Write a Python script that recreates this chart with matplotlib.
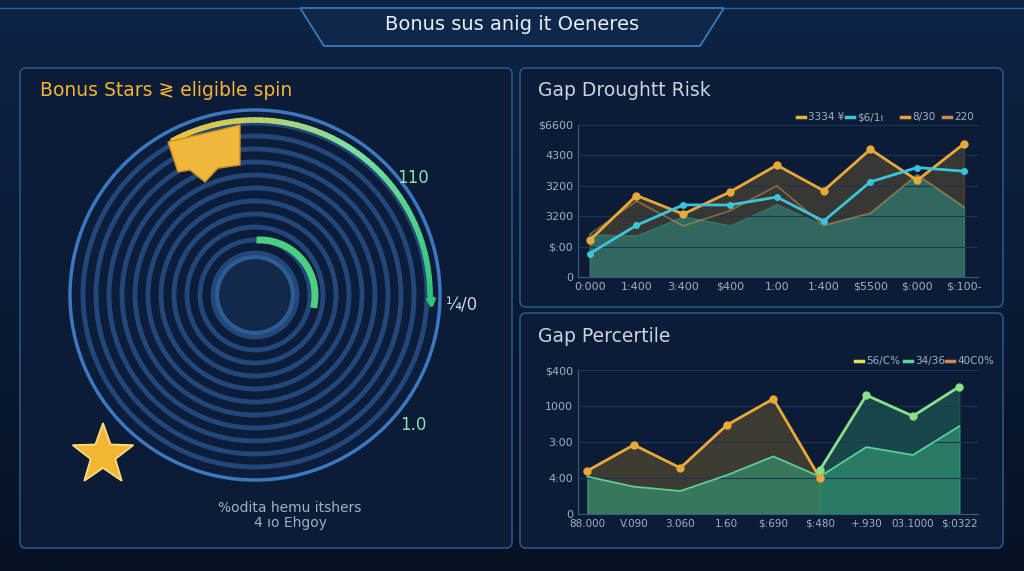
import numpy as np
import matplotlib.pyplot as plt
from matplotlib.colors import LinearSegmentedColormap
from matplotlib.patches import FancyBboxPatch, Circle, Polygon

W, H = 1024, 571

# top chart data
top_x_labels = ["0:000", "1:400", "3:400", "$400", "1:00", "1:400", "$5500", "$:000", "$:100-"]
top_orange = [1.21, 2.68, 2.07, 2.80, 3.68, 2.84, 4.20, 3.18, 4.38]
top_cyan = [0.77, 1.70, 2.37, 2.37, 2.63, 1.84, 3.13, 3.60, 3.48]
top_orange_faint = [1.40, 2.50, 1.68, 2.18, 3.00, 1.70, 2.10, 3.37, 2.30]
top_green_area = [1.40, 1.37, 2.00, 1.70, 2.40, 1.70, 2.10, 3.35, 2.30]
top_y_labels = ["0", "$:00", "3200", "3200", "4300", "$6600"]
top_legend = ["3334 ¥", "$6/1ı", "8/30", "220"]

# bottom chart data
bot_x_labels = ["88.000", "V.090", "3.060", "1.60", "$:690", "$:480", "+.930", "03.1000", "$:0322"]
bot_orange = [1.20, 1.92, 1.28, 2.47, 3.20, 1.00]
bot_green_line = [1.22, 3.30, 2.72, 3.54]
bot_green_area = [1.04, 0.76, 0.64, 1.08, 1.60, 1.04, 1.86, 1.64, 2.44]
bot_y_labels = ["0", "4:00", "3:00", "1000", "$400"]
bot_legend = ["56/C%", "34/36", "40C0%"]

BG = "#0a1628"
TXT = "#9fb0c6"

fig = plt.figure(figsize=(W / 100, H / 100), dpi=100, facecolor=BG)
deco = fig.add_axes([0, 0, 1, 1])
deco.set_xlim(0, W)
deco.set_ylim(H, 0)
deco.axis("off")

grad = np.linspace(0, 1, 256).reshape(-1, 1)
deco.imshow(grad, extent=[0, W, H, 0], aspect="auto", zorder=0,
            cmap=LinearSegmentedColormap.from_list("bg", ["#0e2445", "#071225"]))

# title banner
deco.add_patch(Polygon([(300, 8), (724, 8), (700, 46), (324, 46)], closed=True,
                       facecolor="#0f2748", edgecolor="#3b7fc4", lw=1.2, zorder=1))
deco.plot([0, 300], [8, 8], color="#2f5f95", lw=1, zorder=1)
deco.plot([724, W], [8, 8], color="#2f5f95", lw=1, zorder=1)
deco.text(512, 24, "Bonus sus anig it Oeneres", color="#e8eef8", fontsize=14,
          ha="center", va="center", zorder=2)

# panels
for (x0, y0, x1, y1) in [(20, 68, 512, 548), (520, 68, 1003, 307), (520, 313, 1003, 548)]:
    deco.add_patch(FancyBboxPatch((x0, y0), x1 - x0, y1 - y0, boxstyle="round,pad=0,rounding_size=6",
                                  facecolor="#0c1c36", edgecolor="#2a5485", lw=1.2, zorder=1))

deco.text(40, 90, "Bonus Stars ≷ eligible spin", color="#f0b53a", fontsize=13.5, va="center", zorder=3)
deco.text(538, 90, "Gap Droughtt Risk", color="#c9d3e2", fontsize=13.5, va="center", zorder=3)
deco.text(538, 337, "Gap Percertile", color="#c9d3e2", fontsize=13.5, va="center", zorder=3)

# gauge rings
cx, cy = 255, 295
deco.add_patch(Circle((cx, cy), 185, facecolor="#0b1d3a", edgecolor="#3c78c0", lw=2.5, zorder=2))
for r in np.arange(172, 40, -13):
    deco.add_patch(Circle((cx, cy), r, facecolor="none", edgecolor="#284f85", lw=3.5, alpha=0.85, zorder=3))
deco.add_patch(Circle((cx, cy), 38, facecolor="#12294a", edgecolor="#2e5c96", lw=3, zorder=4))
angs = np.linspace(118, 0, 60)
cols = LinearSegmentedColormap.from_list("g", ["#f0c040", "#7ee0a0", "#2ec27a"])
for i in range(len(angs) - 1):
    a = np.radians(angs[i:i + 2])
    deco.plot(cx + 175 * np.cos(a), cy - 175 * np.sin(a), color=cols(i / len(angs)), lw=4, zorder=5,
              solid_capstyle="round")
deco.annotate("", xy=(432, 312), xytext=(430, 285),
              arrowprops=dict(arrowstyle="-|>", color="#2ec27a", lw=3), zorder=6)
a = np.radians(np.linspace(90, -10, 30))
deco.plot(cx + 55 * np.cos(a) + 5, cy - 55 * np.sin(a), color="#4ccf80", lw=5, zorder=6)
deco.add_patch(Polygon([(168, 142), (240, 125), (240, 165), (218, 168), (205, 182), (190, 170), (178, 172)],
                       closed=True, facecolor="#f0b83a", edgecolor="#c98d20", zorder=7))
t = np.linspace(np.pi / 2, np.pi / 2 + 2 * np.pi, 11)[:-1]
rr = np.where(np.arange(10) % 2 == 0, 32, 13)
deco.add_patch(Polygon(np.c_[103 + rr * np.cos(t), 455 - rr * np.sin(t)], closed=True,
                       facecolor="#f2b632", edgecolor="#ffe08a", lw=1.2, zorder=7))
deco.text(413, 178, "110", color="#8fe0b0", fontsize=12, ha="center", va="center", zorder=7)
deco.text(462, 305, "¼/0", color="#c9d3e2", fontsize=12, ha="center", va="center", zorder=7)
deco.text(413, 425, "1.0", color="#8fe0b0", fontsize=12, ha="center", va="center", zorder=7)
deco.text(290, 508, "%odita hemu itshers", color=TXT, fontsize=10, ha="center", va="center", zorder=7)
deco.text(290, 523, "4 ıo Ehgoy", color=TXT, fontsize=10, ha="center", va="center", zorder=7)


def style(ax):
    ax.set_facecolor("none")
    for s in ["top", "right"]:
        ax.spines[s].set_visible(False)
    for s in ["left", "bottom"]:
        ax.spines[s].set_color("#3a5a86")
    ax.tick_params(colors=TXT, labelsize=8, length=0)
    ax.grid(axis="y", color="#1b3458", lw=0.8)


# top chart
ax1 = fig.add_axes([578 / W, 1 - 277 / H, 400 / W, 152 / H])
style(ax1)
x = np.arange(len(top_x_labels))
ax1.fill_between(x, top_orange, color="#8a6a30", alpha=0.35)
ax1.fill_between(x, top_green_area, color="#2f8f86", alpha=0.55)
ax1.plot(x, top_orange_faint, color="#c0904a", lw=1.2, alpha=0.6)
ax1.plot(x, top_orange, color="#e8a93a", lw=2, marker="o", ms=5)
ax1.plot(x, top_cyan, color="#3cc4dc", lw=2, marker="o", ms=4)
ax1.set_xlim(-0.25, 8.3)
ax1.set_ylim(0, 5.0)
ax1.set_yticks(np.arange(6))
ax1.set_yticklabels(top_y_labels)
ax1.set_xticks(x)
ax1.set_xticklabels(top_x_labels)
for lab, c, xx in zip(top_legend, ["#e8b040", "#3cc4dc", "#e8a03a", "#c08a50"], [808, 857, 912, 954]):
    deco.plot([xx - 11, xx - 3], [117, 117], color=c, lw=2.5, zorder=3)
    deco.text(xx, 117, lab, color=TXT, fontsize=7.5, va="center", zorder=3)

# bottom chart
ax2 = fig.add_axes([578 / W, 1 - 514 / H, 400 / W, 144 / H])
style(ax2)
x2 = np.arange(len(bot_x_labels))
ax2.fill_between(x2[:6], bot_orange, color="#8a6a30", alpha=0.4)
ax2.fill_between(x2[5:], bot_green_line, color="#2a7a66", alpha=0.45)
ax2.fill_between(x2, bot_green_area, color="#35a078", alpha=0.6)
ax2.plot(x2, bot_green_area, color="#5fd09a", lw=1.2)
ax2.plot(x2[:6], bot_orange, color="#e8a93a", lw=2, marker="o", ms=5)
ax2.plot(x2[5:], bot_green_line, color="#8be08a", lw=2, marker="o", ms=5)
ax2.set_xlim(-0.2, 8.4)
ax2.set_ylim(0, 3.9)
ax2.set_yticks(np.arange(5))
ax2.set_yticklabels(bot_y_labels)
ax2.set_xticks(x2)
ax2.set_xticklabels(bot_x_labels, fontsize=7.5)
for lab, c, xx in zip(bot_legend, ["#e0e050", "#5fd09a", "#d08a50"], [866, 915, 957]):
    deco.plot([xx - 11, xx - 3], [361, 361], color=c, lw=2.5, zorder=3)
    deco.text(xx, 361, lab, color=TXT, fontsize=7.5, va="center", zorder=3)

fig.savefig("out.png", dpi=100, facecolor=BG)
